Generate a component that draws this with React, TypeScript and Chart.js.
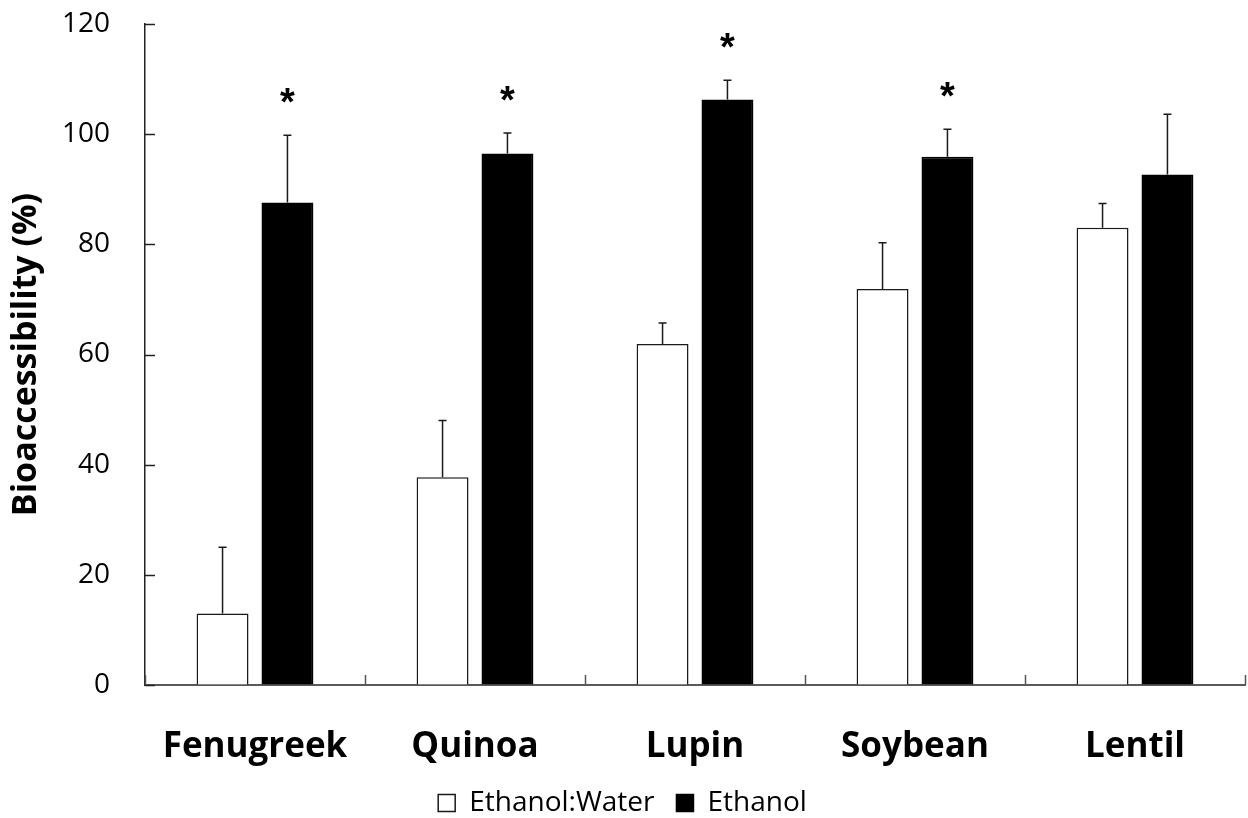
import React, { useEffect, useRef } from 'react';
import { Chart, registerables } from 'chart.js';

Chart.register(...registerables);

const categories = ['Fenugreek', 'Quinoa', 'Lupin', 'Soybean', 'Lentil'];
const ethanolWater = [13.0, 37.7, 61.9, 71.9, 83.0];
const ethanolWaterErr = [12.0, 10.3, 3.8, 8.4, 4.4];
const ethanol = [87.6, 96.5, 106.3, 95.9, 92.7];
const ethanolErr = [12.2, 3.7, 3.5, 5.0, 10.9];
const significant = [true, true, true, true, false];
const yMin = 0;
const yMax = 120;
const yStep = 20;

const errorsByDataset = [ethanolWaterErr, ethanolErr];

const extrasPlugin = {
  id: 'extras',
  afterDatasetsDraw(chart: any) {
    const ctx = chart.ctx;
    const yScale = chart.scales.y;
    const xScale = chart.scales.x;
    const area = chart.chartArea;
    ctx.save();
    // error bars
    ctx.strokeStyle = '#1a1a1a';
    ctx.lineWidth = 1.5;
    chart.data.datasets.forEach((ds: any, di: number) => {
      const meta = chart.getDatasetMeta(di);
      meta.data.forEach((bar: any, i: number) => {
        const v = ds.data[i];
        const e = errorsByDataset[di][i];
        const yTop = yScale.getPixelForValue(v + e);
        ctx.beginPath();
        ctx.moveTo(bar.x, bar.y);
        ctx.lineTo(bar.x, yTop);
        ctx.moveTo(bar.x - 4, yTop);
        ctx.lineTo(bar.x + 4, yTop);
        ctx.stroke();
        if (di === 1 && significant[i]) {
          ctx.fillStyle = '#000';
          ctx.font = 'bold 38px "Liberation Sans", Arial, sans-serif';
          ctx.textAlign = 'center';
          ctx.textBaseline = 'alphabetic';
          ctx.fillText('*', bar.x, yTop - 20);
        }
      });
    });
    // inward tick marks on y axis
    ctx.strokeStyle = '#222';
    ctx.lineWidth = 1.5;
    yScale.ticks.forEach((t: any) => {
      const y = Math.round(yScale.getPixelForValue(t.value)) + 0.5;
      ctx.beginPath();
      ctx.moveTo(area.left, y);
      ctx.lineTo(area.left + 10, y);
      ctx.stroke();
    });
    // inward tick marks on x axis at category boundaries
    const step = xScale.getPixelForValue(1) - xScale.getPixelForValue(0);
    ctx.strokeStyle = '#555';
    for (let i = 0; i <= categories.length; i++) {
      const x = Math.round(xScale.getPixelForValue(i) - step / 2) + 0.5;
      ctx.beginPath();
      ctx.moveTo(x, area.bottom);
      ctx.lineTo(x, area.bottom - 10);
      ctx.stroke();
    }
    ctx.restore();
  },
};

export default function App() {
  const ref = useRef<HTMLCanvasElement>(null);
  useEffect(() => {
    document.body.style.margin = '0';
    const chart = new Chart(ref.current as HTMLCanvasElement, {
      type: 'bar',
      data: {
        labels: categories,
        datasets: [
          {
            label: 'Ethanol:Water',
            data: ethanolWater,
            backgroundColor: '#ffffff',
            borderColor: '#1a1a1a',
            borderWidth: 1.5,
            categoryPercentage: 0.59,
            barPercentage: 0.8,
          },
          {
            label: 'Ethanol',
            data: ethanol,
            backgroundColor: '#000000',
            borderColor: '#000000',
            borderWidth: 1.5,
            categoryPercentage: 0.59,
            barPercentage: 0.8,
          },
        ],
      },
      options: {
        responsive: false,
        animation: false,
        layout: { padding: { top: 24, right: 3, left: 0, bottom: -9 } },
        plugins: {
          tooltip: { enabled: false },
          legend: {
            position: 'bottom',
            labels: {
              boxWidth: 17,
              boxHeight: 17,
              padding: 22,
              color: '#000',
              font: { family: '"Open Sans", sans-serif', size: 28 },
            },
          },
        },
        scales: {
          x: {
            grid: { display: false, drawTicks: false },
            border: { display: true, color: '#595959', width: 2 },
            ticks: {
              color: '#000',
              padding: 41,
              font: { family: '"Open Sans", sans-serif', size: 35, weight: 'bold' },
            },
            afterFit: (s: any) => {
              s.height = 82;
            },
          },
          y: {
            min: yMin,
            max: yMax,
            grid: {
              display: true,
              drawOnChartArea: false,
              drawTicks: true,
              tickLength: 35,
              color: 'rgba(0,0,0,0)',
            },
            border: { display: true, color: '#222', width: 1.5 },
            ticks: {
              stepSize: yStep,
              color: '#000',
              padding: 0,
              font: { family: '"Open Sans", sans-serif', size: 28 },
            },
            title: {
              display: true,
              text: 'Bioaccessibility (%)',
              color: '#000',
              padding: { top: 6, bottom: 0 },
              font: { family: '"Open Sans", sans-serif', size: 34, weight: 'bold' },
            },
            afterFit: (s: any) => {
              s.width = 145;
            },
          },
        },
      },
      plugins: [extrasPlugin],
    } as any);
    return () => chart.destroy();
  }, []);
  return <canvas ref={ref} width={1248} height={818} style={{ display: 'block' }} />;
}
